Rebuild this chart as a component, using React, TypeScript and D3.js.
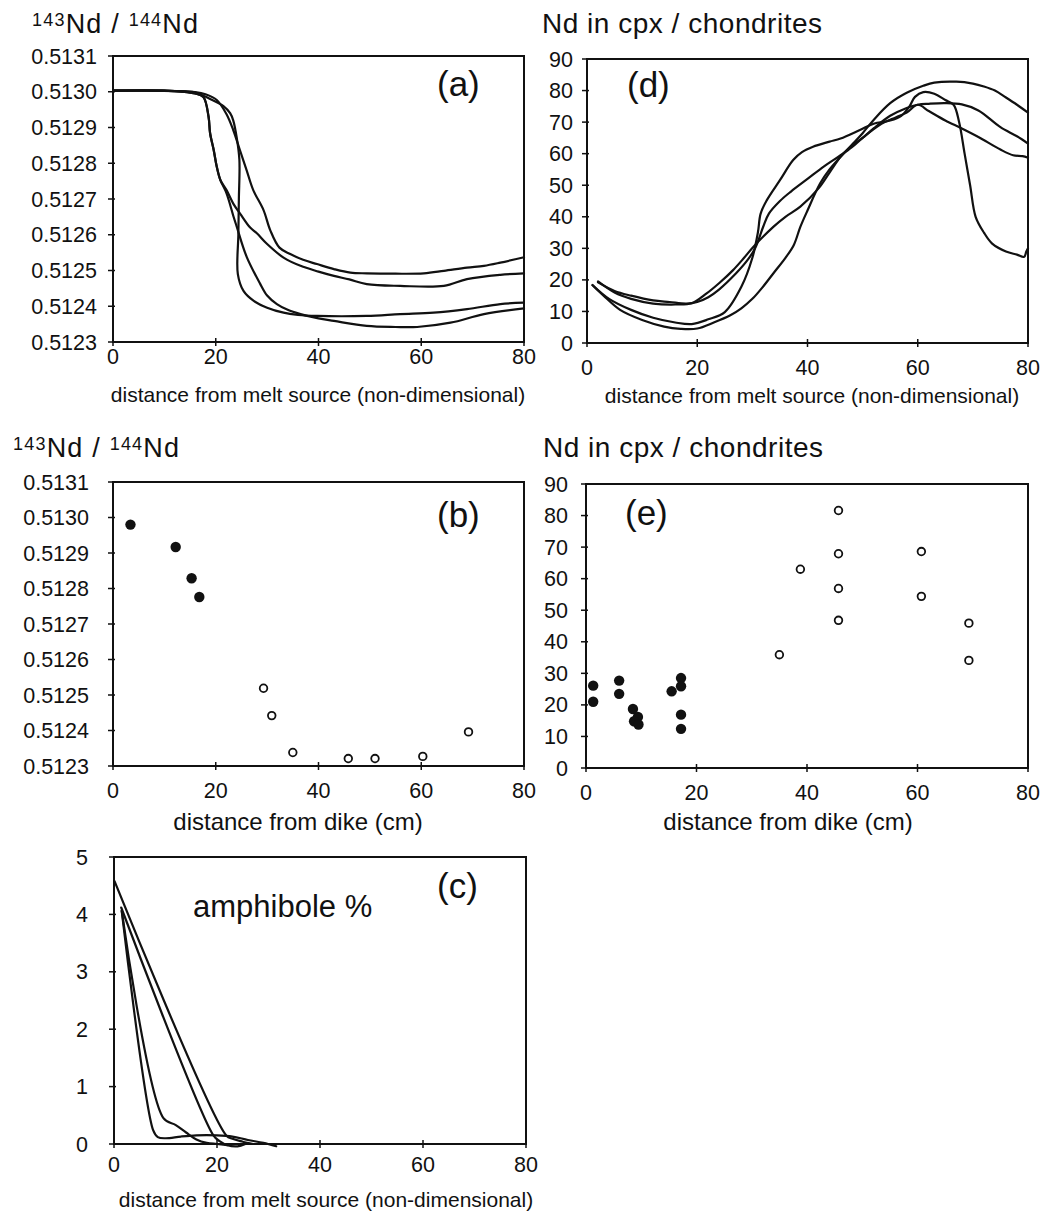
import React from "react";
import * as d3 from "d3";

const FONT = '"Liberation Sans", Arial, Helvetica, sans-serif';

// ---------- tick values ----------
const distanceTicks = [0, 20, 40, 60, 80];
const ratioTicks = [0.5123, 0.5124, 0.5125, 0.5126, 0.5127, 0.5128, 0.5129, 0.513, 0.5131];
const chondriteTicks = [0, 10, 20, 30, 40, 50, 60, 70, 80, 90];
const amphiboleTicks = [0, 1, 2, 3, 4, 5];

// ---------- panel (a): modelled 143Nd/144Nd ----------
const ratioModelP: [number, number][] = [[0,0.513003],[10,0.513003],[16,0.512999],[18,0.512993],[20.2,0.512977],[22.1,0.512937],[23.4,0.512893],[24.7,0.512837],[26.0,0.512781],[27.3,0.512725],[29.3,0.512669],[30.6,0.512613],[32.4,0.512564],[34.5,0.512546],[37,0.51253],[39.7,0.512518],[43,0.512504],[46.2,0.512494],[49.4,0.512492],[55,0.512491],[60.5,0.512492],[64.4,0.512499],[68.9,0.512508],[72.2,0.512513],[75.4,0.512522],[80,0.512537]];
const ratioModelQ: [number, number][] = [[0,0.513003],[12,0.513002],[16,0.512995],[17.6,0.512985],[18.6,0.51293],[18.9,0.512884],[19.6,0.512837],[20.2,0.51279],[20.9,0.512753],[22.1,0.512725],[23.5,0.512685],[24.7,0.51266],[26.7,0.51262],[28,0.512604],[30,0.512574],[33.2,0.512536],[36.5,0.512513],[40,0.512497],[43,0.512485],[46,0.512475],[49.4,0.512462],[55.9,0.512457],[64.4,0.512457],[68.9,0.512476],[75.4,0.512488],[80,0.512492]];
const ratioModelR: [number, number][] = [[0,0.513003],[12,0.513002],[16,0.512998],[18.9,0.51298],[21.5,0.51296],[22.8,0.51294],[23.4,0.51292],[24.1,0.51287],[24.6,0.51281],[24.5,0.5127],[24.4,0.5126],[24.3,0.51249],[25.4,0.512443],[27.4,0.512415],[30,0.512396],[33.2,0.512382],[36,0.512376],[39.7,0.512373],[49.4,0.512373],[55.9,0.512378],[62.4,0.512382],[68.9,0.512392],[75.4,0.512406],[80,0.51241]];
const ratioModelS: [number, number][] = [[0,0.513003],[12,0.513002],[16,0.512995],[17.6,0.512985],[18.6,0.51293],[18.9,0.512884],[19.6,0.512837],[20.2,0.51279],[20.9,0.512753],[22.1,0.512716],[23.5,0.512649],[24.1,0.512622],[26,0.512539],[28.6,0.512464],[30,0.51243],[31.9,0.512406],[34,0.51239],[36.5,0.512378],[40,0.512366],[43,0.512359],[49.4,0.512345],[55,0.512342],[59.2,0.512342],[65.7,0.512354],[72.2,0.512378],[80,0.512394]];

// ---------- panel (d): modelled Nd in cpx / chondrites ----------
const cpxModel1: [number, number][] = [[1,18.3],[3,15],[6,10.5],[10,7.3],[14,5.2],[17,4.5],[20,4.6],[23,6.5],[26,8.8],[28,11],[30,14],[32,18],[34,22.5],[36,27],[37.5,31],[38.7,36.8],[40,42],[42.3,50.6],[44,55],[46,59],[48.3,63.3],[50,66.5],[52,70.7],[55,76],[58,79.3],[61,81.5],[63,82.5],[67,82.8],[70,82.2],[72,81.3],[74,80],[76,77.8],[78,75.5],[80,73]];
const cpxModel2: [number, number][] = [[1,18.4],[4,14],[8,10.5],[12,8],[16,6.5],[19,6],[22,7.5],[25,9.8],[28,17.8],[30,27],[31,35],[31.5,41],[32.6,45.2],[35,51.6],[37.4,58],[39,60.5],[41,62.2],[44,63.8],[46,64.8],[49.5,67.5],[52,69.5],[55,70.5],[57,72],[58.5,75],[59.5,78],[61,79.5],[63,79],[65,77],[66.5,75.5],[67.5,70],[68.5,60],[69.5,50],[70.5,40],[72,35],[73.5,31.5],[76,29],[78,28],[79.3,27.3],[79.7,29],[80,30]];
const cpxModel3: [number, number][] = [[2,19.5],[5,16],[8,14],[12,12.5],[16,12.2],[19,12.6],[21.7,15.7],[24,19],[26.5,23.1],[28.5,27],[30.2,30.5],[33.8,36.8],[36,40],[38.7,43.2],[42,49],[44,54],[46,59],[48,62.5],[50,65],[52,68],[55,72],[58,74.5],[60,75.5],[62,75.8],[65,76],[68,75.6],[71,73.7],[75,68.4],[78,65.5],[80,63.2]];
const cpxModel4: [number, number][] = [[2,19.2],[5,16.5],[8,15],[12,13.5],[15,13],[18,12.5],[20,13],[22,14.5],[24,17],[27,22],[29,26],[30.5,30],[32,37],[33,41],[35,45],[37,48],[40,52],[43,56],[46,59.5],[48,62],[50,65],[53,69],[56,71.5],[58,73],[60,75.5],[62,73.5],[65,70.5],[68,68],[71,65.3],[75,61.3],[77.3,59.5],[79,59.2],[80,58.7]];

// ---------- panel (b): measured 143Nd/144Nd ----------
const ratioNearDike: [number, number][] = [[3.4,0.51298],[12.2,0.512917],[15.3,0.512829],[16.8,0.512776]];
const ratioFarDike: [number, number][] = [[29.3,0.512519],[30.9,0.512442],[35,0.512338],[45.8,0.512321],[51,0.512321],[60.3,0.512327],[69.2,0.512396]];

// ---------- panel (e): measured Nd in cpx / chondrites ----------
const cpxNearDike: [number, number][] = [[1.3,26.1],[1.3,21],[6,27.7],[6,23.5],[8.5,18.7],[9.4,16.2],[8.7,14.8],[9.5,13.8],[15.5,24.3],[17.2,28.5],[17.2,25.9],[17.2,16.9],[17.2,12.4]];
const cpxFarDike: [number, number][] = [[35,35.9],[38.8,63],[45.7,81.6],[45.7,67.9],[45.7,56.9],[45.7,46.8],[60.7,68.6],[60.7,54.4],[69.3,45.9],[69.3,34.1]];

// ---------- panel (c): amphibole % ----------
const amphModel1: [number, number][] = [[0.1,4.58],[21.8,0.15],[23,0.09],[25,0.04],[27,0.0]];
const amphModel2: [number, number][] = [[1.4,4.12],[19.3,0.15],[20.5,0.05],[22,-0.02],[24,-0.04],[25.5,0.0]];
const amphModel3: [number, number][] = [[1.5,4.06],[9.6,0.45],[12,0.33],[14,0.2],[16,0.08],[18,0.02],[20,0.0],[22,-0.02]];
const amphModel4: [number, number][] = [[1.5,4.06],[7.6,0.24],[8.5,0.12],[10,0.1],[13,0.13],[16,0.15],[20,0.15],[23,0.13],[26,0.07],[29,0.02],[31.5,-0.04]];

type Box = { l: number; r: number; t: number; b: number };

function Axes({ box, x, y, yTicks, yFmt, yLabelX, xLabelY, tickSize }: any) {
  return (
    <g>
      <rect x={box.l} y={box.t} width={box.r - box.l} height={box.b - box.t} fill="none" stroke="#111" strokeWidth={2} />
      {yTicks.map((v: number) => (
        <g key={"y" + v}>
          <line x1={box.l - 5} x2={box.l + 2} y1={y(v)} y2={y(v)} stroke="#111" strokeWidth={1.5} />
          <text x={yLabelX} y={y(v)} dy="0.35em" textAnchor="end" fontSize={tickSize} fontFamily={FONT} fill="#111">{yFmt(v)}</text>
        </g>
      ))}
      {distanceTicks.map((v) => (
        <g key={"x" + v}>
          <line x1={x(v)} x2={x(v)} y1={box.b - 4} y2={box.b + 4} stroke="#111" strokeWidth={1.5} />
          <text x={x(v)} y={xLabelY} textAnchor="middle" fontSize={tickSize} fontFamily={FONT} fill="#111">{v}</text>
        </g>
      ))}
    </g>
  );
}

function makeScales(box: Box, yDomain: [number, number]) {
  const x = d3.scaleLinear().domain([0, 80]).range([box.l, box.r]);
  const y = d3.scaleLinear().domain(yDomain).range([box.b, box.t]);
  return { x, y };
}

function Curves({ series, x, y, width }: any) {
  const line = d3.line<[number, number]>().x((d) => x(d[0])).y((d) => y(d[1])).curve(d3.curveCatmullRom.alpha(0.5));
  return (
    <g>
      {series.map((s: [number, number][], i: number) => (
        <path key={i} d={line(s) || ""} fill="none" stroke="#111" strokeWidth={width} strokeLinejoin="round" strokeLinecap="round" />
      ))}
    </g>
  );
}

function Dots({ filled, open, x, y }: any) {
  return (
    <g>
      {filled.map((d: [number, number], i: number) => (
        <circle key={"f" + i} cx={x(d[0])} cy={y(d[1])} r={5.2} fill="#111" />
      ))}
      {open.map((d: [number, number], i: number) => (
        <circle key={"o" + i} cx={x(d[0])} cy={y(d[1])} r={3.8} fill="#fff" stroke="#111" strokeWidth={1.8} />
      ))}
    </g>
  );
}

function RatioTitle({ x0, yb }: { x0: number; yb: number }) {
  return (
    <text x={x0} y={yb} fontSize={27} fontFamily={FONT} fill="#111" letterSpacing={1.2}>
      <tspan fontSize={18} dy={-7}>143</tspan>
      <tspan dy={7}>Nd / </tspan>
      <tspan fontSize={18} dy={-7}>144</tspan>
      <tspan dy={7}>Nd</tspan>
    </text>
  );
}

function CpxTitle({ x0, yb }: { x0: number; yb: number }) {
  return (
    <text x={x0} y={yb} fontSize={28} fontFamily={FONT} fill="#111" textLength={280} lengthAdjust="spacing">
      Nd in cpx / chondrites
    </text>
  );
}

export default function App() {
  const W = 1045, H = 1214;
  const fmtRatio = (v: number) => v.toFixed(4);
  const fmtInt = (v: number) => String(v);

  const boxA: Box = { l: 113, r: 524, t: 56, b: 342 };
  const boxD: Box = { l: 587, r: 1028, t: 59, b: 343 };
  const boxB: Box = { l: 113, r: 524, t: 482, b: 766 };
  const boxE: Box = { l: 586, r: 1028, t: 484, b: 768 };
  const boxC: Box = { l: 114, r: 526, t: 857, b: 1144 };

  const sA = makeScales(boxA, [0.5123, 0.5131]);
  const sD = makeScales(boxD, [0, 90]);
  const sB = makeScales(boxB, [0.5123, 0.5131]);
  const sE = makeScales(boxE, [0, 90]);
  const sC = makeScales(boxC, [0, 5]);

  const txt = { fontFamily: FONT, fill: "#111" } as const;

  return (
    <div style={{ position: "absolute", left: 0, top: 0, background: "#fff" }}>
      <svg width={W} height={H} viewBox={`0 0 ${W} ${H}`} style={{ display: "block", background: "#fff" }}>
        <rect x={0} y={0} width={W} height={H} fill="#fff" />

        {/* panel (a) */}
        <RatioTitle x0={32} yb={33} />
        <Axes box={boxA} x={sA.x} y={sA.y} yTicks={ratioTicks} yFmt={fmtRatio} yLabelX={97} xLabelY={364} tickSize={21.5} />
        <Curves series={[ratioModelP, ratioModelQ, ratioModelR, ratioModelS]} x={sA.x} y={sA.y} width={2.2} />
        <text x={437} y={96} fontSize={35} {...txt}>(a)</text>
        <text x={318} y={402} textAnchor="middle" fontSize={21} {...txt}>distance from melt source (non-dimensional)</text>

        {/* panel (d) */}
        <CpxTitle x0={542} yb={33} />
        <Axes box={boxD} x={sD.x} y={sD.y} yTicks={chondriteTicks} yFmt={fmtInt} yLabelX={573} xLabelY={375} tickSize={21.5} />
        <Curves series={[cpxModel1, cpxModel2, cpxModel3, cpxModel4]} x={sD.x} y={sD.y} width={2.2} />
        <text x={627} y={97} fontSize={35} {...txt}>(d)</text>
        <text x={812} y={403} textAnchor="middle" fontSize={21} {...txt}>distance from melt source (non-dimensional)</text>

        {/* panel (b) */}
        <RatioTitle x0={13} yb={457} />
        <Axes box={boxB} x={sB.x} y={sB.y} yTicks={ratioTicks} yFmt={fmtRatio} yLabelX={89} xLabelY={798} tickSize={21.5} />
        <Dots filled={ratioNearDike} open={ratioFarDike} x={sB.x} y={sB.y} />
        <text x={437} y={527} fontSize={35} {...txt}>(b)</text>
        <text x={298} y={830} textAnchor="middle" fontSize={24} {...txt}>distance from dike (cm)</text>

        {/* panel (e) */}
        <CpxTitle x0={543} yb={457} />
        <Axes box={boxE} x={sE.x} y={sE.y} yTicks={chondriteTicks} yFmt={fmtInt} yLabelX={568} xLabelY={800} tickSize={21.5} />
        <Dots filled={cpxNearDike} open={cpxFarDike} x={sE.x} y={sE.y} />
        <text x={625} y={525} fontSize={35} {...txt}>(e)</text>
        <text x={788} y={830} textAnchor="middle" fontSize={24} {...txt}>distance from dike (cm)</text>

        {/* panel (c) */}
        <Axes box={boxC} x={sC.x} y={sC.y} yTicks={amphiboleTicks} yFmt={fmtInt} yLabelX={88} xLabelY={1172} tickSize={21.5} />
        <Curves series={[amphModel1, amphModel2, amphModel3, amphModel4]} x={sC.x} y={sC.y} width={2.2} />
        <text x={437} y={898} fontSize={35} {...txt}>(c)</text>
        <text x={193} y={917} fontSize={31} {...txt}>amphibole %</text>
        <text x={326} y={1207} textAnchor="middle" fontSize={21} {...txt}>distance from melt source (non-dimensional)</text>
      </svg>
    </div>
  );
}
